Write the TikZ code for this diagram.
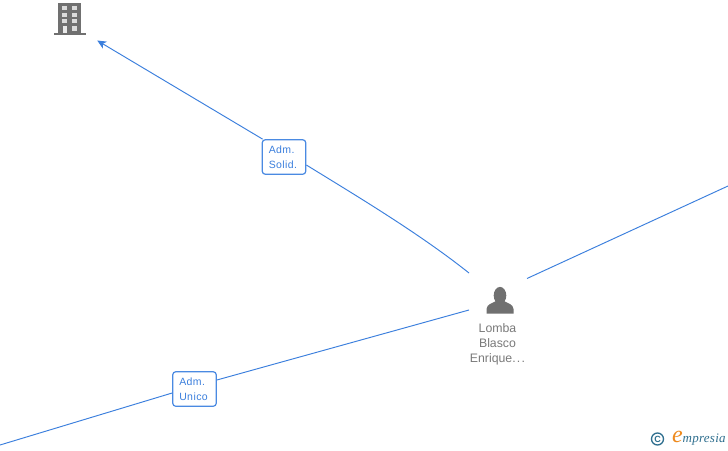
\documentclass[tikz,border=0pt]{standalone}
\usepackage{fontspec}
\setmainfont{Liberation Sans}
\newfontfamily\logofont{Liberation Serif}
\usetikzlibrary{arrows.meta}
\definecolor{linkblue}{HTML}{3B7FDD}
\definecolor{boxblue}{HTML}{4A8AE2}
\definecolor{icongrey}{HTML}{707070}
\definecolor{textgrey}{HTML}{7A7A7A}
\definecolor{logoteal}{HTML}{2F6F8F}
\definecolor{logoorange}{HTML}{EE8A1E}
\tikzset{
  x=1pt,y=-1pt,
  conn/.style={draw=linkblue,line width=0.95pt},
  rolebox/.style={draw=boxblue,line width=1.2pt,fill=white,rounded corners=3pt,minimum width=43.5pt,minimum height=34.5pt,inner sep=0pt,align=left,text=linkblue,font=\fontsize{10.5}{15}\selectfont\addfontfeature{LetterSpace=4}},
  personname/.style={inner sep=0pt,align=center,text=textgrey,font=\fontsize{12.3}{15}\selectfont},
}
\begin{document}
\begin{tikzpicture}
\useasboundingbox (0,0) rectangle (728,450);
\fill[white] (0,0) rectangle (728,450);
% free ends
\coordinate (bldtip) at (97.2,40.5);
\coordinate (persUL) at (469,273);
\coordinate (persR) at (527,278.5);
\coordinate (persL) at (469,310);
\coordinate (offR) at (728,186);
\coordinate (offL) at (0,445);
% nodes
\node[rolebox,text width=30.5pt] (solid) at (284,157) {Adm.\\Solid.};
\node[rolebox,text width=30.5pt] (unico) at (194.5,389) {Adm.\\Unico};
\node[personname] (lomba) at (497.5,344) {Lomba\\Blasco\\Enrique.\kern1.3pt.\kern1.3pt.};
% connectors
\draw[conn,-{Stealth[length=9pt,width=8pt,inset=2.5pt]}] (solid.north west) ++(1,0) -- (bldtip);
\draw[conn] (solid.east) ++(0,8) .. controls (360,198) and (420,234) .. (persUL);
\draw[conn] (persR) -- (offR);
\draw[conn] (persL) -- (unico.east |- 0,380);
\draw[conn] (unico.west |- 0,393) -- (offL);
% building icon
\fill[icongrey] (58,2.7) rectangle (81,33);
\fill[icongrey] (54,33) rectangle (85.5,35.3);
\foreach \cx in {62,72}{
  \foreach \cy in {6,12.7,19}{
    \fill[white!75!icongrey] (\cx,\cy) rectangle ++(4.7,4.4);
  }
}
\fill[white!85!icongrey] (62.7,25.7) rectangle (66.7,33);
\fill[white!75!icongrey] (72,25.7) rectangle (76.7,30.5);
% person icon
\fill[icongrey] (500,295.5) ellipse (6.3 and 8.6);
\fill[icongrey] (486.5,313.5) -- (486.5,309) .. controls (487,304) and (492,303.5) .. (496,301) -- (504,301) .. controls (508,303.5) and (513,304) .. (513.5,309) -- (513.5,313.5) -- cycle;
% logo
\draw[logoteal,line width=1.3pt] (657.5,439) circle (6);
\node[inner sep=0pt,text=logoteal,font=\fontsize{9}{9}\selectfont\bfseries] (copy) at (657.5,439) {C};
\node[inner sep=0pt,text=logoorange,font=\logofont\itshape\fontsize{24}{24}\selectfont] (elog) at (677.5,437) {e};
\node[inner sep=0pt,anchor=west,text=logoteal,font=\logofont\itshape\fontsize{13}{13}\selectfont\addfontfeature{LetterSpace=2}] (mpr) at (682.5,439.5) {mpresia};
\end{tikzpicture}
\end{document}
